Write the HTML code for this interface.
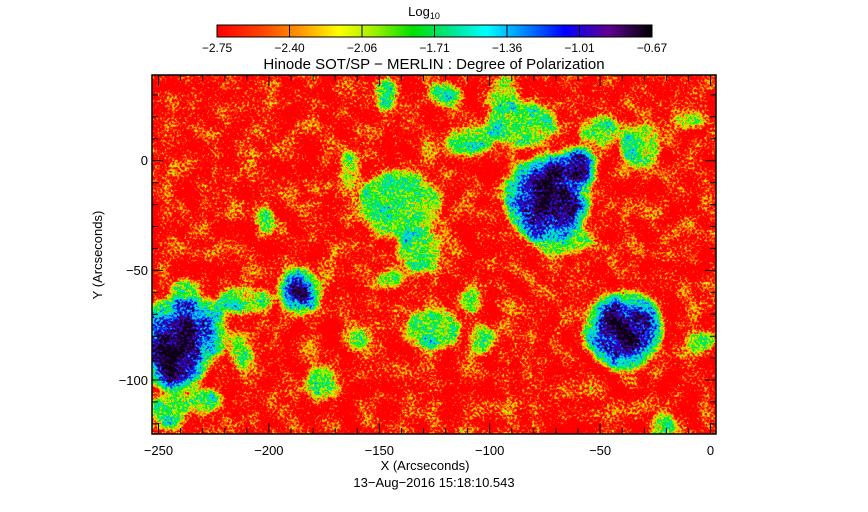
<!DOCTYPE html>
<html><head><meta charset="utf-8"><style>
html,body{margin:0;padding:0;background:#fff;}
svg{display:block;}
text{font-family:"Liberation Sans",sans-serif;fill:#000;}
</style></head><body>
<svg width="868" height="512" viewBox="0 0 868 512" xmlns="http://www.w3.org/2000/svg">
<defs>
<linearGradient id="cb" x1="0" x2="1" y1="0" y2="0">
<stop offset="0" stop-color="#ff0000"/>
<stop offset="0.1" stop-color="#ff4000"/>
<stop offset="0.2" stop-color="#ffa000"/>
<stop offset="0.28" stop-color="#ffff00"/>
<stop offset="0.36" stop-color="#a0f000"/>
<stop offset="0.45" stop-color="#00e000"/>
<stop offset="0.55" stop-color="#00e8a0"/>
<stop offset="0.62" stop-color="#00ffff"/>
<stop offset="0.7" stop-color="#0090ff"/>
<stop offset="0.8" stop-color="#0000ff"/>
<stop offset="0.9" stop-color="#600090"/>
<stop offset="1" stop-color="#000000"/>
</linearGradient>
<clipPath id="pc"><rect x="152" y="75" width="564" height="359"/></clipPath>
<filter id="cm" x="152" y="75" width="564" height="359" filterUnits="userSpaceOnUse" color-interpolation-filters="sRGB">
<feGaussianBlur in="SourceGraphic" stdDeviation="3.5" result="b"/>
<feTurbulence type="fractalNoise" baseFrequency="0.4" numOctaves="3" seed="7" result="t1"/>
<feColorMatrix in="t1" type="matrix" values="1 0 0 0 0  1 0 0 0 0  1 0 0 0 0  0 0 0 0 1" result="n1"/>
<feTurbulence type="fractalNoise" baseFrequency="0.05" numOctaves="3" seed="3" result="t2"/>
<feColorMatrix in="t2" type="matrix" values="1 0 0 0 0  1 0 0 0 0  1 0 0 0 0  0 0 0 0 1" result="n2"/>
<feComposite in="n1" in2="n2" operator="arithmetic" k2="0.8" k3="0.6" k4="-0.2" result="n"/>
<feComposite in="b" in2="n" operator="arithmetic" k2="1" k3="1.0" k4="-0.53" result="f"/>
<feColorMatrix in="f" type="matrix" values="1 0 0 0 0  1 0 0 0 0  1 0 0 0 0  0 0 0 0 1" result="g"/>
<feComponentTransfer in="g">
<feFuncR type="table" tableValues="1 1 1 0.7 0 0 0 0 0.1 0.3 0.05"/>
<feFuncG type="table" tableValues="0 0.4 0.8 1 0.9 0.9 0.9 0.4 0 0 0"/>
<feFuncB type="table" tableValues="0 0 0 0 0 0.6 1 1 0.9 0.5 0.1"/>
<feFuncA type="table" tableValues="1 1"/>
</feComponentTransfer>
</filter>
</defs>

<text x="424" y="16" font-size="13" text-anchor="middle">Log<tspan font-size="9" dy="3">10</tspan></text>
<rect x="217" y="25" width="435" height="12" fill="url(#cb)" stroke="#000" stroke-width="1"/>
<g stroke="#000" stroke-width="1">
<line x1="289.5" y1="25" x2="289.5" y2="37"/><line x1="362" y1="25" x2="362" y2="37"/><line x1="434.5" y1="25" x2="434.5" y2="37"/><line x1="507" y1="25" x2="507" y2="37"/><line x1="579.5" y1="25" x2="579.5" y2="37"/>
</g>
<g font-size="12" text-anchor="middle">
<text x="217" y="52">−2.75</text><text x="289.5" y="52">−2.40</text><text x="362" y="52">−2.06</text><text x="434.5" y="52">−1.71</text><text x="507" y="52">−1.36</text><text x="579.5" y="52">−1.01</text><text x="652" y="52">−0.67</text>
</g>
<text x="434" y="69" font-size="15" text-anchor="middle">Hinode SOT/SP − MERLIN : Degree of Polarization</text>

<g clip-path="url(#pc)">
<g filter="url(#cm)">
<rect x="152" y="75" width="564" height="359" fill="#000"/>
<g fill="#fff">
<g fill-opacity="0.43">
<ellipse cx="400" cy="205" rx="42" ry="35"/><ellipse cx="420" cy="250" rx="22" ry="22"/>
<ellipse cx="470" cy="140" rx="25" ry="14"/><ellipse cx="505" cy="95" rx="15" ry="18"/>
<ellipse cx="385" cy="95" rx="10" ry="16"/><ellipse cx="520" cy="125" rx="35" ry="22"/>
<ellipse cx="640" cy="145" rx="20" ry="22"/><ellipse cx="200" cy="312" rx="25" ry="14"/>
<ellipse cx="215" cy="335" rx="14" ry="22"/><ellipse cx="240" cy="352" rx="10" ry="18"/>
<ellipse cx="322" cy="382" rx="14" ry="18"/><ellipse cx="205" cy="400" rx="18" ry="12"/>
<ellipse cx="432" cy="330" rx="28" ry="20"/><ellipse cx="482" cy="340" rx="14" ry="14"/>
<ellipse cx="470" cy="300" rx="10" ry="14"/><ellipse cx="265" cy="220" rx="9" ry="14"/>
<ellipse cx="662" cy="428" rx="14" ry="14"/><ellipse cx="700" cy="342" rx="14" ry="10"/>
<ellipse cx="560" cy="238" rx="30" ry="18"/><ellipse cx="245" cy="300" rx="28" ry="14"/>
<ellipse cx="185" cy="295" rx="15" ry="15"/><ellipse cx="445" cy="95" rx="18" ry="12"/>
<ellipse cx="600" cy="130" rx="20" ry="14"/><ellipse cx="690" cy="120" rx="14" ry="10"/>
<ellipse cx="350" cy="170" rx="10" ry="18"/><ellipse cx="390" cy="280" rx="14" ry="10"/>
<ellipse cx="170" cy="410" rx="20" ry="18"/><ellipse cx="360" cy="340" rx="10" ry="10"/>
</g>
<g fill-opacity="0.55">
<circle cx="548" cy="198" r="44"/><circle cx="576" cy="167" r="22"/><circle cx="624" cy="330" r="40"/>
<ellipse cx="175" cy="345" rx="38" ry="48"/><circle cx="300" cy="291" r="22"/>
</g>
<g fill-opacity="0.75">
<circle cx="548" cy="198" r="32"/><circle cx="576" cy="167" r="15"/><circle cx="624" cy="330" r="28"/>
<ellipse cx="175" cy="348" rx="26" ry="36"/><circle cx="300" cy="291" r="13"/>
</g>
<g fill-opacity="0.97">
<circle cx="548" cy="198" r="20"/><circle cx="576" cy="167" r="10"/><circle cx="624" cy="330" r="17"/>
<ellipse cx="172" cy="350" rx="16" ry="24"/><circle cx="300" cy="291" r="8"/>
</g>
</g>
</g>
</g>

<rect x="152" y="75" width="564" height="359" fill="none" stroke="#000" stroke-width="1.5"/>
<g stroke="#000" stroke-width="1">
<path d="M158.5 434v-11M158.5 75v11M268.9 434v-11M268.9 75v11M379.3 434v-11M379.3 75v11M489.7 434v-11M489.7 75v11M600.1 434v-11M600.1 75v11M710.5 434v-11M710.5 75v11"/>
<path d="M180.6 434v-6M202.7 434v-6M224.8 434v-6M246.8 434v-6M291 434v-6M313.1 434v-6M335.2 434v-6M357.2 434v-6M401.4 434v-6M423.5 434v-6M445.6 434v-6M467.6 434v-6M511.8 434v-6M533.9 434v-6M556 434v-6M578 434v-6M622.2 434v-6M644.3 434v-6M666.4 434v-6M688.4 434v-6
M180.6 75v6M202.7 75v6M224.8 75v6M246.8 75v6M291 75v6M313.1 75v6M335.2 75v6M357.2 75v6M401.4 75v6M423.5 75v6M445.6 75v6M467.6 75v6M511.8 75v6M533.9 75v6M556 75v6M578 75v6M622.2 75v6M644.3 75v6M666.4 75v6M688.4 75v6"/>
<path d="M152 160.7h11M716 160.7h-11M152 270.4h11M716 270.4h-11M152 380h11M716 380h-11"/>
<path d="M152 94.9h6M152 116.8h6M152 138.8h6M152 182.6h6M152 204.6h6M152 226.5h6M152 248.5h6M152 292.3h6M152 314.3h6M152 336.2h6M152 358.1h6M152 401.9h6M152 423.9h6
M716 94.9h-6M716 116.8h-6M716 138.8h-6M716 182.6h-6M716 204.6h-6M716 226.5h-6M716 248.5h-6M716 292.3h-6M716 314.3h-6M716 336.2h-6M716 358.1h-6M716 401.9h-6M716 423.9h-6"/>
</g>
<g font-size="13" text-anchor="middle">
<text x="158.5" y="455">−250</text><text x="268.9" y="455">−200</text><text x="379.3" y="455">−150</text><text x="489.7" y="455">−100</text><text x="600.1" y="455">−50</text><text x="710.5" y="455">0</text>
</g>
<g font-size="13" text-anchor="end">
<text x="148" y="165">0</text><text x="148" y="275">−50</text><text x="148" y="385">−100</text>
</g>
<text x="425" y="470" font-size="13" text-anchor="middle">X (Arcseconds)</text>
<text x="434" y="487" font-size="13" text-anchor="middle">13−Aug−2016 15:18:10.543</text>
<text transform="translate(102,255) rotate(-90)" font-size="13" text-anchor="middle">Y (Arcseconds)</text>
</svg>
</body></html>
